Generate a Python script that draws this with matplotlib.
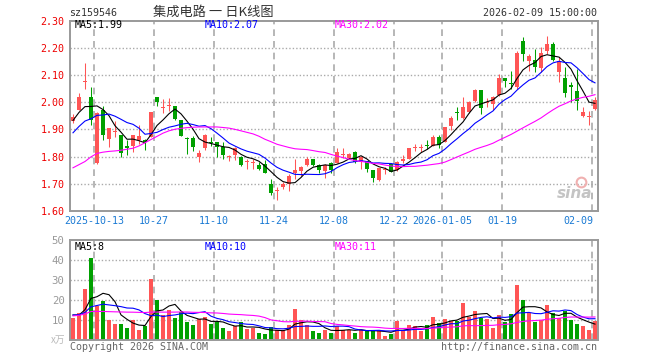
import numpy as np
import pandas as pd
import matplotlib
matplotlib.use('Agg')
import matplotlib.pyplot as plt

# 日K数据, 2025-09-29 ~ 2026-02-09, 共88根
opens = [1.930, 1.972, 2.074, 2.018, 1.777, 1.970, 1.866, 1.890, 1.880, 1.838,
         1.838, 1.860, 1.863, 1.872, 2.018, 1.980, 1.986, 1.988, 1.933, 1.868,
         1.868, 1.800, 1.830, 1.852, 1.852, 1.835, 1.800, 1.805, 1.798, 1.779,
         1.775, 1.770, 1.774, 1.700, 1.673, 1.689, 1.700, 1.738, 1.746, 1.768,
         1.793, 1.768, 1.746, 1.777, 1.777, 1.807, 1.796, 1.817, 1.780, 1.784,
         1.752, 1.713, 1.749, 1.774, 1.750, 1.784, 1.793, 1.832, 1.832, 1.842,
         1.838, 1.874, 1.854, 1.911, 1.962, 1.943, 1.963, 2.004, 2.045, 1.997,
         1.994, 2.028, 2.091, 2.070, 2.055, 2.226, 2.152, 2.155, 2.126, 2.189,
         2.216, 2.113, 2.089, 2.065, 2.040, 1.948, 1.947, 1.975]
highs = [1.955, 2.033, 2.143, 2.055, 1.966, 1.988, 1.905, 1.930, 1.880, 1.860,
         1.880, 1.915, 1.866, 1.966, 2.018, 2.012, 2.016, 1.988, 1.933, 1.871,
         1.876, 1.823, 1.884, 1.872, 1.855, 1.853, 1.805, 1.835, 1.802, 1.790,
         1.790, 1.780, 1.786, 1.717, 1.690, 1.707, 1.737, 1.792, 1.765, 1.800,
         1.793, 1.772, 1.773, 1.780, 1.830, 1.830, 1.812, 1.820, 1.804, 1.784,
         1.752, 1.758, 1.762, 1.776, 1.784, 1.805, 1.830, 1.848, 1.848, 1.862,
         1.880, 1.881, 1.908, 1.951, 1.982, 2.018, 2.006, 2.048, 2.045, 2.016,
         2.024, 2.104, 2.091, 2.116, 2.189, 2.240, 2.177, 2.195, 2.204, 2.244,
         2.220, 2.165, 2.130, 2.073, 2.122, 1.984, 1.967, 2.020]
lows = [1.925, 1.970, 2.049, 1.915, 1.774, 1.860, 1.835, 1.872, 1.800, 1.805,
        1.817, 1.848, 1.823, 1.872, 1.988, 1.960, 1.967, 1.933, 1.875, 1.810,
        1.820, 1.780, 1.826, 1.838, 1.800, 1.793, 1.784, 1.787, 1.765, 1.755,
        1.755, 1.750, 1.738, 1.660, 1.640, 1.680, 1.675, 1.719, 1.727, 1.765,
        1.765, 1.738, 1.720, 1.740, 1.775, 1.795, 1.790, 1.775, 1.754, 1.745,
        1.705, 1.710, 1.737, 1.744, 1.747, 1.777, 1.790, 1.822, 1.818, 1.829,
        1.838, 1.832, 1.854, 1.899, 1.935, 1.939, 1.959, 2.000, 1.957, 1.982,
        1.972, 2.024, 2.057, 2.049, 2.049, 2.152, 2.116, 2.110, 2.113, 2.177,
        2.150, 2.076, 2.021, 2.000, 1.970, 1.945, 1.918, 1.970]
closes = [1.945, 2.018, 2.077, 1.933, 1.960, 1.878, 1.905, 1.892, 1.815, 1.830,
          1.880, 1.876, 1.854, 1.963, 2.000, 1.982, 1.990, 1.940, 1.875, 1.865,
          1.835, 1.815, 1.878, 1.849, 1.835, 1.805, 1.802, 1.830, 1.770, 1.781,
          1.778, 1.756, 1.741, 1.668, 1.676, 1.700, 1.728, 1.750, 1.762, 1.793,
          1.771, 1.752, 1.770, 1.750, 1.817, 1.810, 1.810, 1.780, 1.800, 1.756,
          1.720, 1.758, 1.751, 1.744, 1.780, 1.793, 1.830, 1.834, 1.834, 1.840,
          1.872, 1.842, 1.908, 1.943, 1.960, 1.984, 2.000, 2.045, 1.980, 2.000,
          2.018, 2.091, 2.077, 2.068, 2.183, 2.177, 2.171, 2.130, 2.180, 2.216,
          2.155, 2.150, 2.033, 2.055, 2.004, 1.963, 1.948, 2.010]
# 成交量(万)
volumes = [11.2, 13.7, 25.7, 41.2, 17.2, 19.7, 10.2, 8.2, 8.2, 6.2,
           10.2, 5.2, 7.2, 30.7, 20.2, 12.5, 15.2, 11.2, 14.2, 9.2,
           7.7, 10.5, 11.7, 8.2, 9.2, 6.2, 4.7, 7.2, 9.3, 5.8,
           6.3, 3.7, 3.2, 6.7, 5.2, 5.2, 7.7, 15.7, 10.0, 7.7,
           4.7, 3.7, 5.2, 3.7, 7.2, 5.2, 5.2, 3.7, 5.2, 4.7,
           5.2, 4.7, 2.2, 3.2, 9.7, 5.2, 7.7, 7.2, 4.7, 7.7,
           11.7, 8.7, 10.7, 9.7, 9.7, 18.7, 11.7, 14.7, 11.2, 10.7,
           6.2, 12.7, 9.2, 13.2, 27.7, 20.2, 13.7, 9.2, 10.2, 17.7,
           13.7, 11.2, 14.7, 10.2, 8.2, 7.2, 5.2, 9.7]

# 图外面的前29天, 只用来算均线
hist_close = [1.67, 1.73, 1.42, 1.58, 1.74, 1.82, 1.84, 1.74, 1.72, 1.77,
              1.62, 1.50, 1.61, 1.65, 1.63, 1.73, 1.77, 1.77, 1.79, 1.79,
              1.785, 1.878, 1.849, 1.835, 1.865, 1.87, 1.97, 1.93, 1.95]
hist_vol = [5, 6, 4, 16, 20, 13, 11, 10, 9, 11, 8, 10, 24, 19, 14, 15,
            11, 12, 10, 12, 12, 14, 13, 11, 13, 14, 12, 13, 13]

tick_idx = [4, 14, 24, 34, 44, 54, 62, 72, 87]
tick_labels = ['2025-10-13', '10-27', '11-10', '11-24', '12-08', '12-22',
               '2026-01-05', '01-19', '02-09']

RED = '#ff5555'
GREEN = '#00a000'
MONO = 'DejaVu Sans Mono'
FS = 7.2
LW = 0.8

n = len(closes)
x = np.arange(n)
nh = len(hist_close)

def ma(hist, vals, k):
    s = pd.Series(list(hist) + list(vals))
    return s.rolling(k).mean().values[nh:]

cols = [RED if c >= o else GREEN for o, c in zip(opens, closes)]

fig = plt.figure(figsize=(6.6, 3.6), dpi=100)
W, H = 660, 360
ax1 = fig.add_axes([70 / W, 1 - 211 / H, 528 / W, 190.3 / H])
ax2 = fig.add_axes([70 / W, 1 - 340.3 / H, 528 / W, 100 / H])

for ax in (ax1, ax2):
    ax.set_xlim(-0.5, n - 0.5)
    for s in ax.spines.values():
        s.set_color('#999999')
        s.set_linewidth(1.4)
    for i in tick_idx:
        ax.axvline(i - 0.5, color='#aaaaaa', lw=1.2, dashes=(4, 3), zorder=0)
    ax.set_xticks([])
    ax.tick_params(axis='y', length=0, pad=4)

# K线
ax1.vlines(x, lows, highs, colors=cols, lw=0.75, zorder=2)
body_lo = np.minimum(opens, closes)
body_h = np.maximum(np.abs(np.array(closes) - np.array(opens)), 0.004)
ax1.bar(x, body_h, bottom=body_lo, width=0.82, color=cols, linewidth=0, zorder=2)

ax1.plot(x, ma(hist_close, closes, 5), color='black', lw=LW, zorder=3)
ax1.plot(x, ma(hist_close, closes, 10), color='#0000ff', lw=LW, zorder=3)
ax1.plot(x, ma(hist_close, closes, 30), color='#ff00ff', lw=LW, zorder=3)

ax1.set_ylim(1.60, 2.30)
yt = np.round(np.arange(1.60, 2.301, 0.10), 2)
ax1.set_yticks(yt)
ax1.set_yticklabels(['%.2f' % v for v in yt], color='#ee0000', family=MONO, fontsize=FS)
for v in yt[1:-1]:
    ax1.axhline(v, color='#aaaaaa', lw=1, ls=(0, (1, 1.5)), zorder=0)

for i, lab in zip(tick_idx, tick_labels):
    ha = 'right' if i == tick_idx[-1] else 'center'
    xx = i - 0.3 if i == tick_idx[-1] else i - 0.5
    ax1.text(xx, -0.025, lab, transform=ax1.get_xaxis_transform(), ha=ha, va='top',
             color='#1a7ad4', family=MONO, fontsize=FS)

# 水印
ax1.text(0.99, 0.055, 'sina', transform=ax1.transAxes, ha='right', va='bottom',
         fontsize=11, style='italic', weight='bold', color='#c4c4c4', zorder=1)
ax1.plot([84.6], [1.705], 'o', ms=7, mfc='none', mec='#f0b0b0', mew=1.5, zorder=1)

# 成交量
ax2.bar(x, volumes, width=0.82, color=cols, linewidth=0, zorder=2)
ax2.plot(x, ma(hist_vol, volumes, 5), color='black', lw=LW, zorder=3)
ax2.plot(x, ma(hist_vol, volumes, 10), color='#0000ff', lw=LW, zorder=3)
ax2.plot(x, ma(hist_vol, volumes, 30), color='#ff00ff', lw=LW, zorder=3)
ax2.set_ylim(0, 50)
ax2.set_yticks([10, 20, 30, 40, 50])
ax2.set_yticklabels(['10', '20', '30', '40', '50'], color='#999999', family=MONO, fontsize=FS + 0.5)
for v in [10, 20, 30, 40]:
    ax2.axhline(v, color='#aaaaaa', lw=1, ls=(0, (1, 1.5)), zorder=0)
ax2.text(-0.008, 0, 'x万', transform=ax2.transAxes, ha='right', va='center',
         color='#bbbbbb', fontsize=7, family=['Noto Sans CJK SC', 'DejaVu Sans'])

# 文字
def ftext(px, py, s, **kw):
    kw.setdefault('family', MONO)
    kw.setdefault('fontsize', FS)
    kw.setdefault('va', 'center')
    fig.text(px / W, 1 - py / H, s, **kw)

ftext(69, 13, 'sz159546', color='#333333')
ftext(213, 12.5, '集成电路 一 日K线图', ha='center', color='#333333', fontsize=9.5,
      family=['Noto Sans CJK SC', 'DejaVu Sans'])
ftext(597, 13, '2026-02-09 15:00:00', ha='right', color='#333333')

ftext(75, 25.5, 'MA5:1.99', color='black')
ftext(205, 25.5, 'MA10:2.07', color='#0000ff')
ftext(335, 25.5, 'MA30:2.02', color='#ff00ff')

ftext(75, 246.5, 'MA5:8', color='black')
ftext(205, 246.5, 'MA10:10', color='#0000ff')
ftext(335, 246.5, 'MA30:11', color='#ff00ff')

ftext(70, 346.5, 'Copyright 2026 SINA.COM', color='#666666')
ftext(597, 346.5, 'http://finance.sina.com.cn', ha='right', color='#666666')

fig.savefig('out.png', dpi=100)
